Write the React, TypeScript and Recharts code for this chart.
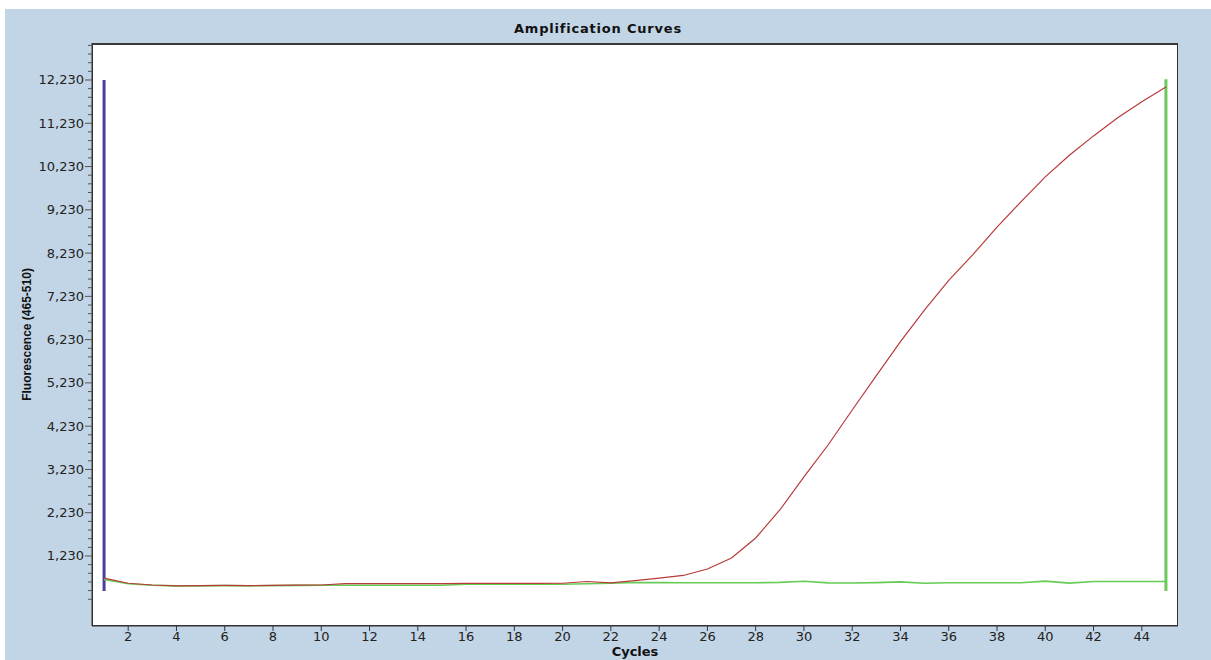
import React from 'react';
import { LineChart, Line, XAxis, YAxis, CartesianGrid, ReferenceLine } from 'recharts';

const cycles = [
  1, 2, 3, 4, 5, 6, 7, 8, 9, 10, 11, 12, 13, 14, 15, 16, 17, 18, 19, 20, 21, 22, 23,
  24, 25, 26, 27, 28, 29, 30, 31, 32, 33, 34, 35, 36, 37, 38, 39, 40, 41, 42, 43, 44, 45,
];

// positive sample (red)
const sampleRed = [
  720, 600, 560, 540, 545, 550, 545, 550, 555, 560, 590, 592, 592, 592, 592, 595, 597, 598, 598, 600, 640, 610, 660,
  720, 780, 930, 1184, 1646, 2293, 3056, 3795, 4604, 5400, 6184, 6915, 7600, 8193, 8830, 9420, 9990, 10492, 10938, 11359, 11730, 12069,
];

// negative sample (green)
const sampleGreen = [
  690, 590, 555, 540, 540, 545, 540, 545, 550, 555, 555, 555, 555, 555, 555, 576, 576, 576, 576, 578, 590, 600, 618,
  615, 613, 613, 613, 613, 620, 645, 608, 605, 615, 632, 600, 612, 612, 612, 612, 648, 603, 640, 640, 640, 640,
];

const xTicks = [2, 4, 6, 8, 10, 12, 14, 16, 18, 20, 22, 24, 26, 28, 30, 32, 34, 36, 38, 40, 42, 44];
const yLabelTicks = [1230, 2230, 3230, 4230, 5230, 6230, 7230, 8230, 9230, 10230, 11230, 12230];

// analysis window cursors
const startCursor = { cycle: 1, low: 421, high: 12230 };
const endCursor = { cycle: 45, low: 421, high: 12250 };

const data = cycles.map((c, i) => ({ cycle: c, red: sampleRed[i], green: sampleGreen[i] }));

// minor ticks every 200 between the labelled ones
const yTicks: number[] = [];
for (let v = 230; v <= 13030; v += 200) yTicks.push(v);

const YTick = (props: any) => {
  const { x, y, payload } = props;
  const v = payload.value;
  const major = yLabelTicks.includes(v);
  const edge = x + 8;
  return (
    <g>
      <line x1={edge - (major ? 7 : 4)} x2={edge} y1={y} y2={y} stroke="#555" />
      {major && (
        <text x={x} y={y} dy={4.5} textAnchor="end" fontSize={13} fill="#222" fontFamily="DejaVu Sans">
          {v.toLocaleString('en-US')}
        </text>
      )}
    </g>
  );
};

export default function App() {
  return (
    <div style={{ position: 'absolute', left: 0, top: 0, width: 1211, height: 660, background: '#fff', overflow: 'hidden' }}>
      <div style={{ position: 'absolute', left: 5, top: 9, right: 0, bottom: 0, background: '#c2d5e6' }} />
      <div
        style={{
          position: 'absolute', top: 21, left: 0, width: 1196, textAlign: 'center',
          fontFamily: 'DejaVu Sans', fontWeight: 'bold', fontSize: 13, letterSpacing: 0.8, color: '#111',
        }}
      >
        Amplification Curves
      </div>
      <div style={{ position: 'absolute', left: 0, top: 0 }}>
        <LineChart width={1211} height={660} data={data} margin={{ top: 43, right: 33, bottom: 4, left: 0 }}>
          <CartesianGrid horizontal={false} vertical={false} fill="#ffffff" fillOpacity={1} />
          <XAxis
            dataKey="cycle"
            type="number"
            domain={[0.5, 45.5]}
            ticks={xTicks}
            height={30}
            tickSize={5}
            tickMargin={1}
            stroke="#333"
            tick={{ fontSize: 13, fill: '#222', fontFamily: 'DejaVu Sans' }}
            label={{
              value: 'Cycles', position: 'insideBottom', offset: 0,
              style: { fontSize: 13, fontWeight: 'bold', fill: '#111', fontFamily: 'DejaVu Sans' },
            }}
          />
          <YAxis
            type="number"
            domain={[-388, 13085]}
            allowDataOverflow
            ticks={yTicks}
            interval={0}
            width={92}
            tickSize={7}
            tickMargin={1}
            tickLine={false}
            stroke="#333"
            tick={<YTick />}
            label={{
              value: 'Fluorescence (465-510)', angle: -90, position: 'insideLeft', offset: 27,
              style: {
                textAnchor: 'middle', fontSize: 12, fontWeight: 'bold', fill: '#111',
                fontFamily: '"Liberation Sans Narrow", "Liberation Sans", sans-serif',
              },
            }}
          />
          <ReferenceLine
            segment={[{ x: startCursor.cycle, y: startCursor.low }, { x: startCursor.cycle, y: startCursor.high }]}
            stroke="#4a3f9e"
            strokeWidth={3}
          />
          <ReferenceLine
            segment={[{ x: endCursor.cycle, y: endCursor.low }, { x: endCursor.cycle, y: endCursor.high }]}
            stroke="#6cc95a"
            strokeWidth={3}
          />
          <Line dataKey="green" type="linear" stroke="#66cc55" strokeWidth={1.6} dot={false} isAnimationActive={false} />
          <Line dataKey="red" type="linear" stroke="#b83a3a" strokeWidth={1.2} dot={false} isAnimationActive={false} />
        </LineChart>
      </div>
      <div
        style={{
          position: 'absolute', left: 92, top: 43, width: 1086, height: 583, boxSizing: 'border-box',
          borderTop: '2px solid #3a3a3a', borderLeft: '1px solid #333', borderRight: '1px solid #333',
          borderBottom: '1px solid #333', pointerEvents: 'none',
        }}
      />
    </div>
  );
}
